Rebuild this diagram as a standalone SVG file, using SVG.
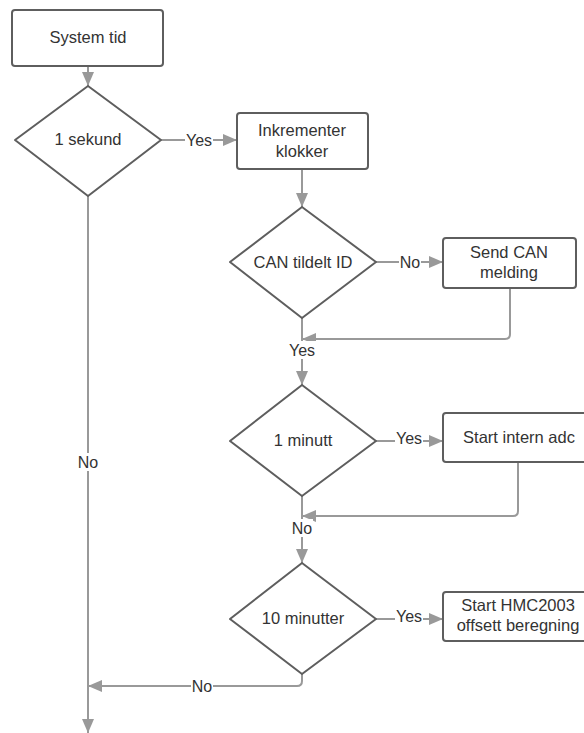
<svg xmlns="http://www.w3.org/2000/svg" width="584" height="733" viewBox="0 0 584 733">
<defs>
<marker id="ah" viewBox="0 0 14 12" refX="14" refY="6" markerWidth="14" markerHeight="12" markerUnits="userSpaceOnUse" orient="auto">
<path d="M0,0 L14,6 L0,12 z" fill="#999"/>
</marker>
<style>
.box{fill:#fff;stroke:#5e5e5e;stroke-width:2}
.dia{fill:#fff;stroke:#5e5e5e;stroke-width:2;stroke-linejoin:round}
.t{font-family:"Liberation Sans",Arial,sans-serif;font-size:16.5px;fill:#333;text-anchor:middle}
.lbl{font-family:"Liberation Sans",Arial,sans-serif;font-size:16px;fill:#333;text-anchor:middle}
.c{fill:none;stroke:#999;stroke-width:2}
.bg{fill:#fff}
</style>
</defs>
<rect width="584" height="733" fill="#fff"/>
<g id="connectors">
<path class="c" d="M88,66 L88,86" marker-end="url(#ah)"/>
<path class="c" d="M161,140 L237,140" marker-end="url(#ah)"/>
<path class="c" d="M302,169 L302,207" marker-end="url(#ah)"/>
<path class="c" d="M376,262 L443,262" marker-end="url(#ah)"/>
<path class="c" d="M510,288 L510,334 Q510,339 505,339 L302,339" marker-end="url(#ah)"/>
<path class="c" d="M302,318 L302,385" marker-end="url(#ah)"/>
<path class="c" d="M376,441 L443,441" marker-end="url(#ah)"/>
<path class="c" d="M518,462 L518,511 Q518,516 513,516 L302,516" marker-end="url(#ah)"/>
<path class="c" d="M302,496 L302,563" marker-end="url(#ah)"/>
<path class="c" d="M376,619 L443,619" marker-end="url(#ah)"/>
<path class="c" d="M302,674 L302,681 Q302,686 297,686 L88,686" marker-end="url(#ah)"/>
<path class="c" d="M88,196 L88,733" marker-end="url(#ah)"/>
<rect class="bg" x="185" y="131" width="28" height="18"/>
<text class="lbl" x="199" y="145.5">Yes</text>
<rect class="bg" x="399" y="253" width="22" height="18"/>
<text class="lbl" x="410" y="267.5">No</text>
<rect class="bg" x="288" y="341" width="28" height="18"/>
<text class="lbl" x="302" y="355.5">Yes</text>
<rect class="bg" x="395" y="432" width="28" height="18"/>
<text class="lbl" x="409" y="443.5">Yes</text>
<rect class="bg" x="291" y="519" width="22" height="18"/>
<text class="lbl" x="302" y="533.5">No</text>
<rect class="bg" x="395" y="610" width="28" height="18"/>
<text class="lbl" x="409" y="621.5">Yes</text>
<rect class="bg" x="191" y="677" width="22" height="18"/>
<text class="lbl" x="202" y="691.5">No</text>
<rect class="bg" x="77" y="453" width="22" height="18"/>
<text class="lbl" x="88" y="467.5">No</text>
</g>
<g id="system-tid">
<rect class="box" x="12" y="10" width="151" height="56" rx="3"/>
<text class="t" x="88" y="43">System tid</text>
</g>
<g id="1-sekund">
<polygon class="dia" points="88,86 161,140 88,196 15,140"/>
<text class="t" x="88" y="145">1 sekund</text>
</g>
<g id="inkrementer-klokker">
<rect class="box" x="237" y="113" width="131" height="56" rx="3"/>
<text class="t" x="302" y="136">Inkrementer</text>
<text class="t" x="302" y="157">klokker</text>
</g>
<g id="can-tildelt-id">
<polygon class="dia" points="302,207 376,262 302,318 230,262"/>
<text class="t" x="303" y="267.5">CAN tildelt ID</text>
</g>
<g id="send-can-melding">
<rect class="box" x="443" y="238" width="133" height="50" rx="3"/>
<text class="t" x="509" y="258">Send CAN</text>
<text class="t" x="509" y="278">melding</text>
</g>
<g id="1-minutt">
<polygon class="dia" points="302,385 376,441 302,496 230,441"/>
<text class="t" x="303" y="446">1 minutt</text>
</g>
<g id="start-intern-adc">
<rect class="box" x="443" y="413" width="152" height="49" rx="3"/>
<text class="t" x="519" y="443">Start intern adc</text>
</g>
<g id="10-minutter">
<polygon class="dia" points="302,563 376,619 302,674 230,619"/>
<text class="t" x="303" y="624">10 minutter</text>
</g>
<g id="start-hmc2003">
<rect class="box" x="443" y="592" width="152" height="49" rx="3"/>
<text class="t" x="518" y="611">Start HMC2003</text>
<text class="t" x="518" y="631">offsett beregning</text>
</g>
</svg>
